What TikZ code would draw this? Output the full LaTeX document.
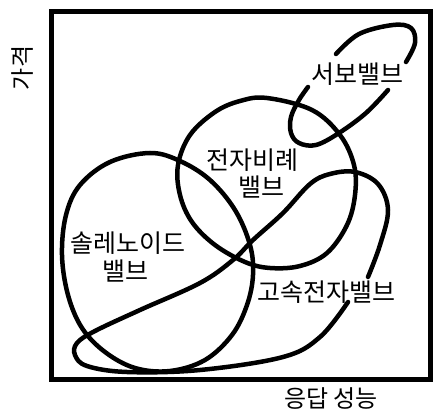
\documentclass[tikz,border=0pt]{standalone}
\usepackage{fontspec}
\newfontfamily\kr{Noto Sans CJK KR}
\tikzset{
  curve/.style={line width=4.5pt, line cap=round, line join=round},
  frame/.style={line width=5pt},
  lab/.style={font=\kr\fontsize{25}{30}\selectfont, inner sep=0pt},
  axislab/.style={font=\kr\fontsize{24}{28}\selectfont, inner sep=0pt}
}
\begin{document}
\begin{tikzpicture}[x=1pt,y=-1pt]
\useasboundingbox (0,0) rectangle (436,411);
\draw[frame] (51,11.5) rectangle (430,379);
% solenoid valve region
\draw[curve] plot[smooth cycle, tension=0.6] coordinates {(150,153) (180,161) (210,180) (235,210) (250,245) (253,275) (247,305) (232,335) (205,360) (170,371) (135,368) (105,352) (82,328) (68,295) (62,255) (66,215) (80,185) (110,162)};
% proportional valve region
\draw[curve] plot[smooth cycle, tension=0.6] coordinates {(267,98) (312,110) (340,135) (354,165) (355,195) (347,225) (327,253) (300,266) (270,268) (245,262) (215,245) (192,222) (180,195) (178,165) (190,135) (215,112) (240,101)};
% servo valve loop
\draw[curve] plot[smooth, tension=0.6] coordinates {(388,90) (366,113) (339,133) (316,145) (299,143) (291,133) (291,117) (299,100) (308,87)};
\draw[curve] plot[smooth, tension=0.6] coordinates {(336,54) (359,34) (393,25) (411,28) (415,43) (406,62)};
% high speed valve loop
\draw[curve] plot[smooth, tension=0.6] coordinates {(368,277) (380,245) (388,210) (378,184) (355,172) (330,174) (310,184) (283,213) (253,240) (233,260) (200,283) (140,310) (95,331) (77,343) (75,355) (87,366) (127,372) (200,370) (283,357) (320,337) (348,302)};
% labels
\node[lab] (servo) at (357,74) {서보밸브};
\node[lab] (prop1) at (252,160) {전자비례};
\node[lab] (prop2) at (261,187) {밸브};
\node[lab] (sol1) at (127.5,243) {솔레노이드};
\node[lab] (sol2) at (125,271) {밸브};
\node[lab] (fast) at (326,292) {고속전자밸브};
\node[axislab] (xlab) at (331,399) {응답 성능};
\node[axislab, rotate=90] (ylab) at (22,68) {가격};
\end{tikzpicture}
\end{document}
